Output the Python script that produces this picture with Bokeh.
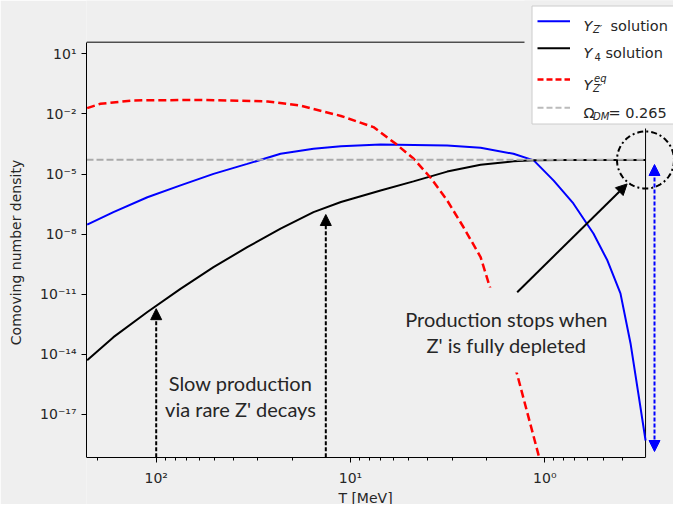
import math
from bokeh.plotting import figure
from bokeh.models import (Range1d, FixedTicker, CustomJSTickFormatter, Arrow,
                          NormalHead, Label, BoxAnnotation, PolyAnnotation)
from bokeh.embed import file_html
from bokeh.resources import INLINE

# ---------------- data ----------------
T_zp = [226.6, 166, 111, 75, 50.7, 34, 22.9, 15.5, 11.2, 7.0, 3.18, 2.14, 1.45,
        1.14, 0.90, 0.713, 0.562, 0.476, 0.408, 0.362, 0.330, 0.303]
Y_zp = [2.95e-8, 1.26e-7, 6.9e-7, 2.7e-6, 1.02e-5, 3.2e-5, 1.02e-4, 1.82e-4, 2.45e-4,
        2.95e-4, 2.63e-4, 2.04e-4, 1.02e-4, 4.8e-5, 4.7e-6, 3.4e-7, 1.07e-8, 4.8e-10,
        1.1e-11, 3.5e-14, 1.1e-16, 5e-19]

T_y4 = [226.6, 166, 111, 75, 50.7, 34, 22.9, 15.5, 11.2, 7.0, 4.74, 3.18, 2.14,
        1.45, 1.14, 0.8, 0.5, 0.303]
Y_y4 = [5.0e-15, 7.2e-14, 1.29e-12, 1.86e-11, 2.24e-10, 2.24e-9, 1.86e-8, 1.26e-7,
        4.0e-7, 1.51e-6, 4.3e-6, 1.32e-5, 2.9e-5, 4.3e-5, 4.8e-5, 5.0e-5, 5.0e-5, 5.0e-5]

T_eq = [226.6, 193.6, 130.9, 59.2, 26.7, 18.1, 11.2, 7.62, 5.87, 4.74, 3.87, 3.18,
        2.62, 2.14, 1.94, 1.39, 1.07]
Y_eq = [1.95e-2, 3.2e-2, 4.7e-2, 5.0e-2, 4.2e-2, 2.6e-2, 7.9e-3, 2.2e-3, 3.3e-4,
        5.9e-5, 6.5e-6, 4.8e-7, 2.2e-8, 7.1e-10, 3.3e-11, 1.07e-15, 7.4e-20]

omega_dm_Y = 5.1e-5

x_major_ticks = [100, 10, 1]
x_minor_ticks = [200, 90, 80, 70, 60, 50, 40, 30, 20, 9, 8, 7, 6, 5, 4, 3, 2,
                 0.9, 0.8, 0.7, 0.6, 0.5, 0.4]
y_major_ticks = [1e1, 1e-2, 1e-5, 1e-8, 1e-11, 1e-14, 1e-17]

# limits of the drawn axes box
x_limits = (228.4, 0.303)
y_limits = (7.2e-20, 38)
# visible range of the whole frame (frame reaches the canvas edges for the overlays)
x_view = (228.4, 0.2176)
y_view = (3.2e-22, 4570)

# annotation anchors (data space)
arrow_slow_T = [100, 13.4]
arrow_slow_tipY = [1.9e-12, 9.5e-8]
arrow_stop_start = (1.387, 1.26e-11)
arrow_stop_end = (0.377, 3.2e-6)

# ---------------- styling ----------------
BG = "#efefef"
DARK = "#262626"
FONT = "DejaVu Sans"
ANN_FONT = "Lato"
FL, FB = 86, 504   # frame left / bottom in canvas pixels


def sx(x):
    return x - FL


def sy(y):
    return FB - y


p = figure(width=673, height=504, x_axis_type="log", y_axis_type="log",
           x_range=Range1d(*x_view), y_range=Range1d(*y_view),
           output_backend="svg", toolbar_location=None,
           min_border_left=86, min_border_right=0, min_border_top=0, min_border_bottom=0)
p.border_fill_color = BG
p.background_fill_color = BG
p.outline_line_color = None
p.grid.visible = False

fmt = CustomJSTickFormatter(code="""
const sup = {"0":"\u2070","1":"\u00b9","2":"\u00b2","3":"\u00b3","4":"\u2074","5":"\u2075",
             "6":"\u2076","7":"\u2077","8":"\u2078","9":"\u2079","-":"\u207b"};
const e = Math.round(Math.log10(tick));
return "10" + String(e).split("").map(c => sup[c]).join("");
""")

xa = p.xaxis[0]
ya = p.yaxis[0]
xa.ticker = FixedTicker(ticks=x_major_ticks, minor_ticks=x_minor_ticks)
ya.ticker = FixedTicker(ticks=y_major_ticks, minor_ticks=[])
xa.bounds = (min(x_limits), max(x_limits))
ya.bounds = (min(y_limits), max(y_limits))
xa.fixed_location = y_limits[0]
for ax in (xa, ya):
    ax.formatter = fmt
    ax.axis_line_color = "black"
    ax.major_tick_line_color = "black"
    ax.minor_tick_line_color = "black"
    ax.major_tick_out = 5
    ax.major_tick_in = 0
    ax.minor_tick_out = 3
    ax.minor_tick_in = 0
    ax.major_label_text_font = FONT
    ax.major_label_text_font_size = "14px"
    ax.major_label_text_color = DARK
    ax.axis_label_text_font = FONT
    ax.axis_label_text_font_size = "14px"
    ax.axis_label_text_font_style = "normal"
    ax.axis_label_text_color = DARK
ya.axis_label = "Comoving number density"
xa.major_label_standoff = 8
ya.major_label_standoff = 5
ya.axis_label_standoff = 13

# x axis title (placed under the axes box)
p.add_layout(Label(x=sx(365), y=sy(497), x_units="screen", y_units="screen",
                   text="T [MeV]", text_font=FONT, text_font_size="14px",
                   text_color=DARK, text_align="center", text_baseline="alphabetic"))

# top and right spines
p.line(list(x_limits), [y_limits[1], y_limits[1]], line_color="black", line_width=1)
p.line([x_limits[1], x_limits[1]], list(y_limits), line_color="black", line_width=1)

# ---------------- curves ----------------
p.line(T_zp, Y_zp, line_color="#0000ff", line_width=2)
p.line(T_y4, Y_y4, line_color="black", line_width=2)
p.line(T_eq, Y_eq, line_color="#ff0000", line_width=2.5, line_dash="8 4")
p.line(list(x_limits), [omega_dm_Y, omega_dm_Y], line_color="#aaaaaa",
       line_width=2, line_dash="7 3")

# ---------------- annotations ----------------
for T, Yt in zip(arrow_slow_T, arrow_slow_tipY):
    p.add_layout(Arrow(x_start=T, y_start=y_limits[0], x_end=T, y_end=Yt,
                       line_color="black", line_width=2, line_dash="4 2",
                       end=NormalHead(size=11, fill_color="black", line_color="black")))

# box of the right-hand text hides the red curve
p.add_layout(BoxAnnotation(left=sx(398), right=sx(612), top=sy(287), bottom=sy(372),
                           left_units="screen", right_units="screen",
                           top_units="screen", bottom_units="screen",
                           fill_color=BG, fill_alpha=1, line_alpha=0))

p.add_layout(Arrow(x_start=arrow_stop_start[0], y_start=arrow_stop_start[1],
                   x_end=arrow_stop_end[0], y_end=arrow_stop_end[1],
                   line_color="black", line_width=2,
                   end=NormalHead(size=11, fill_color="black", line_color="black")))

for txt, x, y in [("Slow production", 240, 382), ("via rare Z' decays", 240, 408),
                  ("Production stops when", 506, 318), ("Z' is fully depleted", 506, 344)]:
    p.add_layout(Label(x=sx(x), y=sy(y), x_units="screen", y_units="screen", text=txt,
                       text_font=ANN_FONT, text_font_size="20px", text_color=DARK,
                       text_align="center", text_baseline="alphabetic"))

# dash-dot circle around the end point
cx, cy, r = 645, 159.5, 28.5
n = 80
xs = [sx(cx + r * math.cos(2 * math.pi * k / n)) for k in range(n)]
ys = [sy(cy + r * math.sin(2 * math.pi * k / n)) for k in range(n)]
p.add_layout(PolyAnnotation(xs=xs, ys=ys, xs_units="screen", ys_units="screen",
                            fill_alpha=0, line_color="black", line_alpha=1, line_width=2,
                            line_dash="6 3 2 3"))

# blue double arrow (depletion)
p.add_layout(Arrow(x_start=sx(654), y_start=sy(451), x_end=sx(654), y_end=sy(164),
                   start_units="screen", end_units="screen",
                   line_color="#0000ff", line_width=2, line_dash="4 2",
                   start=NormalHead(size=11, fill_color="#0000ff", line_color="#0000ff"),
                   end=NormalHead(size=11, fill_color="#0000ff", line_color="#0000ff")))

# ---------------- legend (hand built) ----------------
p.add_layout(BoxAnnotation(left=sx(524), right=sx(700), top=sy(-5), bottom=sy(128),
                           left_units="screen", right_units="screen",
                           top_units="screen", bottom_units="screen",
                           fill_color=BG, fill_alpha=1, line_alpha=0))
p.add_layout(BoxAnnotation(left=sx(531.5), right=sx(700), top=sy(5.5), bottom=sy(123.5),
                           left_units="screen", right_units="screen",
                           top_units="screen", bottom_units="screen",
                           fill_color="white", fill_alpha=0.95, line_color="#cccccc",
                           line_alpha=1, line_width=1))
leg_rows = [(20.7, "#0000ff", None, 2), (47.7, "black", None, 2),
            (79, "#ff0000", "6 3", 2.5), (107.3, "#bbbbbb", "6 3", 2)]
for yrow, col, dash, lw in leg_rows:
    kw = dict(line_dash=dash) if dash else {}
    p.add_layout(Arrow(x_start=sx(537), y_start=sy(yrow), x_end=sx(569.5), y_end=sy(yrow),
                       start_units="screen", end_units="screen", start=None, end=None,
                       line_color=col, line_width=lw, **kw))


def lab(txt, x, y, size="14.5px", style="normal"):
    p.add_layout(Label(x=sx(x), y=sy(y), x_units="screen", y_units="screen", text=txt,
                       text_font=FONT, text_font_size=size, text_font_style=style,
                       text_color=DARK, text_align="left", text_baseline="alphabetic"))


lab("Y", 583, 25.5, style="italic")
lab("Z\u2032", 592.5, 29, size="10px", style="italic")
lab("solution", 610, 25.5)
lab("Y", 583, 52.5, style="italic")
lab("4", 594, 56, size="10px")
lab("solution", 605, 52.5)
lab("Y", 583, 84, style="italic")
lab("eq", 593.5, 78, size="10px", style="italic")
lab("Z\u2032", 592.5, 88, size="10px", style="italic")
lab("\u03a9", 583, 112)
lab("DM", 592.5, 115.5, size="10px", style="italic")
lab("= 0.265", 608, 112)

open("out.html", "w").write(file_html(p, INLINE))
